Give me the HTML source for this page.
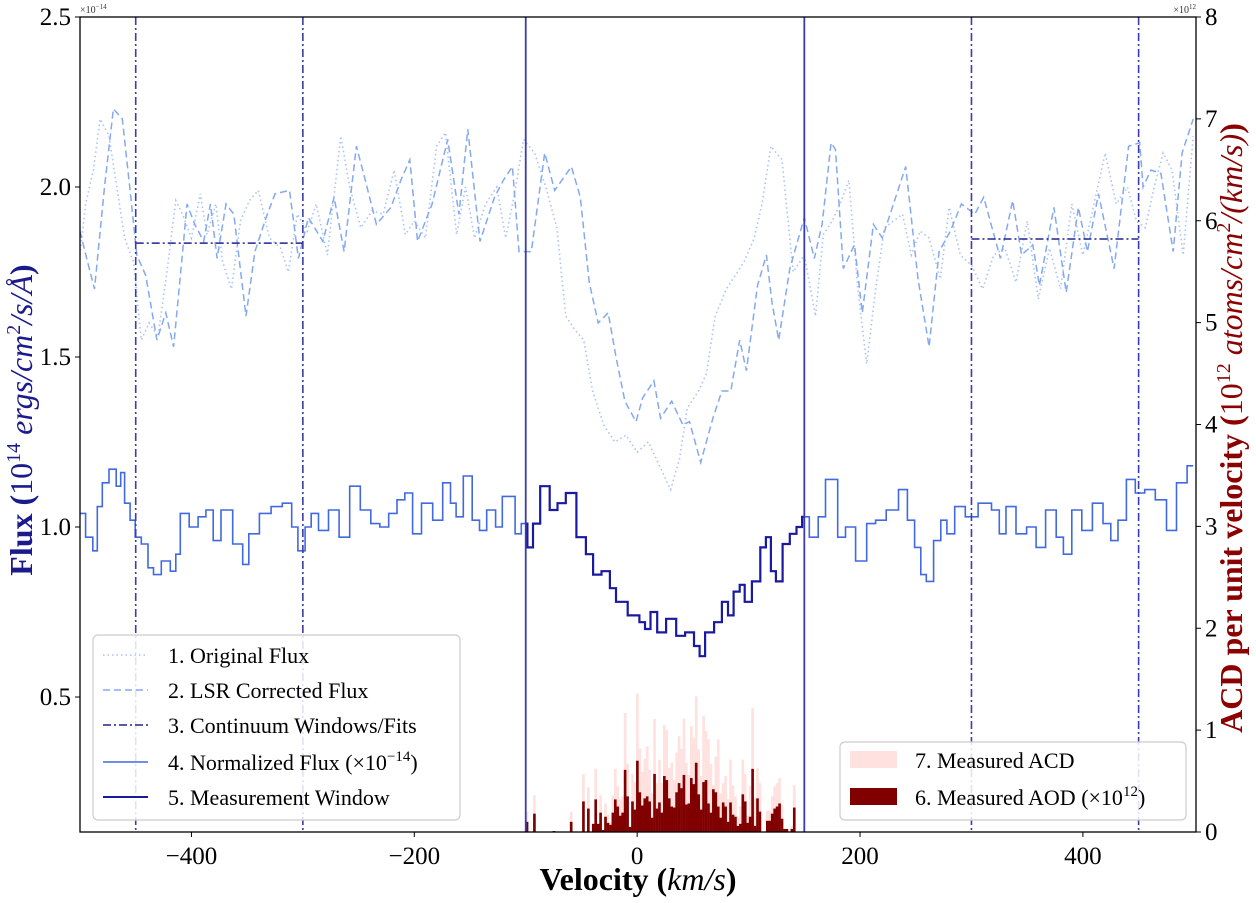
<!DOCTYPE html>
<html><head><meta charset="utf-8">
<style>
html,body{margin:0;padding:0;background:#fff;}
svg{display:block;font-family:"Liberation Serif",serif;}
</style></head>
<body>
<svg id="chart" width="1256" height="903" viewBox="0 0 1256 903" xmlns="http://www.w3.org/2000/svg">
<g id="marks"></g>
<rect x="80" y="17" width="1116" height="815" fill="none" stroke="#000" stroke-width="1.3"/>
<g id="axes"></g>
<text x="80" y="13" font-size="10" fill="#333">×10<tspan dy="-4" font-size="7">−14</tspan></text>
<text x="1196" y="13" font-size="10" fill="#333" text-anchor="end">×10<tspan dy="-4" font-size="7">12</tspan></text>
<text x="638" y="890" font-size="32" text-anchor="middle" fill="#000"><tspan font-weight="bold">Velocity (</tspan><tspan font-style="italic">km/s</tspan><tspan font-weight="bold">)</tspan></text>
<text transform="translate(32,420) rotate(-90)" font-size="32" text-anchor="middle" fill="#1a1a8c"><tspan font-weight="bold">Flux (</tspan><tspan>10<tspan dy="-12" font-size="20">14</tspan><tspan dy="12" font-style="italic"> ergs/cm</tspan><tspan dy="-12" font-size="20">2</tspan><tspan dy="12" font-style="italic">/s/Å</tspan></tspan><tspan font-weight="bold">)</tspan></text>
<text transform="translate(1242,428) rotate(-90)" font-size="32" text-anchor="middle" fill="#8b0000"><tspan font-weight="bold">ACD per unit velocity (</tspan><tspan>10<tspan dy="-12" font-size="20">12</tspan><tspan dy="12" font-style="italic"> atoms/cm</tspan><tspan dy="-12" font-size="20">2</tspan><tspan dy="12" font-style="italic">/(km/s)</tspan></tspan><tspan font-weight="bold">)</tspan></text>
<g>
<rect x="93" y="635" width="367" height="185" rx="5" fill="#fff" fill-opacity="0.85" stroke="#ccc" stroke-width="1.2"/>
<line x1="103" y1="655" x2="148" y2="655" stroke="#a9c3f5" stroke-width="1.5" stroke-dasharray="1.5,3"/>
<text x="168" y="663" font-size="22">1. Original Flux</text>
<line x1="103" y1="690" x2="148" y2="690" stroke="#84a9f0" stroke-width="1.5" stroke-dasharray="7,4"/>
<text x="168" y="698" font-size="22">2. LSR Corrected Flux</text>
<line x1="103" y1="725" x2="148" y2="725" stroke="#23238f" stroke-width="1.5" stroke-dasharray="8,3,2,3"/>
<text x="168" y="733" font-size="22">3. Continuum Windows/Fits</text>
<line x1="103" y1="762" x2="148" y2="762" stroke="#4169e1" stroke-width="1.5"/>
<text x="168" y="770" font-size="22">4. Normalized Flux (×10<tspan dy="-9" font-size="15">−14</tspan><tspan dy="9">)</tspan></text>
<line x1="103" y1="797" x2="148" y2="797" stroke="#1a1aa0" stroke-width="2"/>
<text x="168" y="805" font-size="22">5. Measurement Window</text>
</g>
<g>
<rect x="840" y="742" width="346" height="78" rx="5" fill="#fff" fill-opacity="0.85" stroke="#ccc" stroke-width="1.2"/>
<rect x="850" y="751" width="47" height="17" fill="#ffe2df"/>
<text x="915" y="768" font-size="22">7. Measured ACD</text>
<rect x="850" y="788" width="47" height="17" fill="#800000"/>
<text x="915" y="805" font-size="22">6. Measured AOD (×10<tspan dy="-9" font-size="15">12</tspan><tspan dy="9">)</tspan></text>
</g>
</svg>
<script>
// ---- data ----
const normV=[-500,-490,-487,-482,-478,-470,-465,-462,-458,-452,-449,-441,-437,-431,-423,-415,-413,-407,-397,-391,-383,-378,-369,-357,-351,-346,-332,-325,-312,-308,-301,-295,-290,-282,-272,-263,-253,-244,-234,-228,-218,-213,-204,-199,-188,-179,-170,-165,-160,-152,-144,-139,-131,-123,-119,-112,-107,-101,-96,-91,-83,-74,-69,-59,-50,-42,-37,-27,-22,-16,-1,5,9,15,21,31,39,47,55,57,65,73,79,84,89,95,98,108,113,118,122,127,134,140,146,150,159,166,172,177,183,191,201,211,217,230,239,246,252,257,262,270,275,281,289,300,312,324,326,336,344,355,361,372,380,385,395,403,414,422,428,435,443,451,460,470,480,488,499];
const normF=[1.04,0.97,0.93,1.06,1.13,1.17,1.12,1.16,1.07,1.02,0.97,0.95,0.88,0.86,0.90,0.87,0.92,1.04,1.00,1.03,1.05,0.96,1.05,0.95,0.89,0.98,1.04,1.06,1.07,1.00,0.93,1.00,1.04,0.99,1.05,0.97,1.12,1.05,1.01,1.00,1.04,1.08,1.10,0.98,1.07,1.02,1.13,1.07,1.03,1.15,1.02,0.99,1.05,1.00,1.09,1.09,0.98,1.01,0.94,1.01,1.12,1.05,1.07,1.10,0.97,0.92,0.86,0.87,0.82,0.78,0.74,0.72,0.70,0.75,0.69,0.73,0.68,0.69,0.65,0.62,0.69,0.72,0.78,0.74,0.81,0.83,0.78,0.84,0.94,0.97,0.87,0.84,0.95,0.98,1.00,1.03,0.97,1.03,1.14,1.14,0.97,1.00,0.90,1.01,1.02,1.05,1.11,1.02,0.94,0.86,0.84,0.96,1.02,0.98,1.06,1.03,1.07,1.05,0.98,1.06,0.98,1.00,0.94,1.05,0.97,0.92,1.05,0.99,1.07,1.01,0.96,1.02,1.14,1.10,1.11,1.08,0.99,1.13,1.18];
const lsrV=[-500,-494,-487,-478,-470,-462,-455,-449,-441,-431,-423,-416,-407,-404,-397,-389,-383,-377,-369,-362,-351,-343,-333,-325,-312,-304,-295,-282,-272,-263,-252,-244,-234,-221,-212,-204,-197,-184,-170,-160,-152,-141,-128,-120,-112,-106,-95,-83,-74,-59,-51,-43,-35,-26,-19,-11,-1,5,15,21,31,41,47,57,68,76,84,92,98,108,116,121,127,137,150,159,166,174,178,185,195,202,212,220,233,241,252,262,271,281,291,303,311,326,337,345,355,361,374,385,396,404,414,428,441,451,454,461,470,481,489,499];
const lsrF=[1.87,1.79,1.70,2.00,2.23,2.20,1.99,1.80,1.74,1.55,1.63,1.53,1.84,1.95,1.89,1.84,1.95,1.79,1.95,1.92,1.62,1.81,1.91,1.98,1.99,1.79,1.91,1.84,1.97,1.81,2.12,2.02,1.89,1.94,2.02,2.08,1.84,1.95,2.14,1.92,2.17,1.84,1.97,2.02,2.06,1.81,1.81,2.10,1.99,2.06,1.97,1.72,1.60,1.63,1.50,1.37,1.31,1.38,1.43,1.32,1.37,1.30,1.31,1.19,1.32,1.40,1.40,1.55,1.46,1.71,1.80,1.66,1.55,1.76,1.91,1.79,1.89,2.13,2.11,1.76,1.83,1.63,1.89,1.85,1.98,2.06,1.73,1.53,1.81,1.87,1.95,1.92,1.97,1.79,1.96,1.80,1.83,1.71,1.94,1.69,1.94,1.81,1.98,1.76,2.12,2.13,2.00,2.05,2.04,1.81,2.10,2.20];
const origV=[-500,-495,-488,-482,-474,-467,-460,-452,-445,-438,-430,-422,-414,-408,-400,-392,-386,-378,-372,-364,-356,-348,-340,-330,-320,-313,-305,-296,-288,-278,-266,-258,-248,-238,-228,-218,-208,-200,-190,-180,-172,-162,-154,-146,-136,-126,-118,-110,-102,-92,-82,-72,-64,-56,-48,-40,-30,-20,-10,0,10,20,30,38,45,55,62,70,80,88,96,105,112,120,130,140,150,160,167,175,182,190,198,206,214,222,230,238,246,254,262,272,280,290,300,310,320,330,340,350,360,370,380,390,400,410,420,430,440,448,456,464,472,480,490,499];
const origF=[1.80,1.95,2.05,2.20,2.15,2.00,1.85,1.78,1.55,1.60,1.56,1.75,1.96,1.92,1.85,1.98,1.86,1.95,1.78,1.70,1.90,1.96,1.99,1.85,1.82,1.75,1.92,1.87,1.95,1.80,2.15,2.00,1.88,1.93,1.92,2.05,1.86,1.90,1.85,2.12,2.16,1.86,2.00,1.85,1.95,2.00,1.85,1.98,2.14,2.10,2.00,1.88,1.62,1.58,1.55,1.40,1.30,1.25,1.27,1.22,1.25,1.18,1.11,1.20,1.35,1.40,1.45,1.62,1.70,1.74,1.78,1.85,1.95,2.12,2.08,1.75,1.80,1.62,1.86,1.90,1.95,2.02,1.70,1.48,1.70,1.88,1.90,1.92,1.80,1.87,1.85,1.73,1.94,1.80,1.77,1.70,1.80,1.82,1.72,1.90,1.67,1.82,1.70,1.95,1.80,1.95,2.10,1.95,2.00,1.90,1.88,2.00,2.10,2.05,1.80,2.15,2.22];
const cont1=[-450,-300,1.835];
const cont2=[300,450,1.847];
const contLines=[-450,-300,300,450];
const windowLines=[-100,150];
const binStart=-100, binWidth=2.2;
const acd=[0.20,0,0,0.36,0,0,0,0,0,0,0,0.01,0,0,0,0,0,0,0.20,0,0,0,0,0.57,0,0.44,0,0.08,0.62,0.08,0.36,0.02,0.28,0.17,0.09,0.36,0.62,0.45,0.32,0.35,1.17,0.67,0.05,0.57,0.49,1.36,0.82,0.59,0.72,0.84,0.61,0.38,1.11,0.48,0.71,0.48,1.05,1.00,0.63,0.68,0.51,0.78,0.94,0.82,1.11,0.68,0.56,1.04,0.92,1.33,0.81,0.55,1.14,0.99,0.91,0.67,0.46,0.74,0.91,0.38,0.48,0.55,0.32,0.71,0.46,0.35,0.15,0.25,0.71,0.57,0.16,0.45,1.22,0.33,0.63,0.48,0,0,0.21,0.21,0.35,0.45,0.48,0.53,0.27,0.03,0.03,0,0.06,0.46,0,0];
const aod=[0.10,0,0,0.18,0,0,0,0,0,0,0,0.01,0,0,0,0,0,0,0.10,0,0,0,0,0.30,0,0.23,0,0.08,0.32,0.08,0.19,0.02,0.15,0.09,0.07,0.19,0.32,0.25,0.16,0.19,0.61,0.35,0.05,0.30,0.22,0.70,0.39,0.26,0.33,0.35,0.30,0.14,0.57,0.23,0.29,0.19,0.55,0.51,0.33,0.25,0.24,0.39,0.48,0.43,0.56,0.27,0.28,0.53,0.47,0.68,0.37,0.22,0.49,0.51,0.28,0.19,0.42,0.39,0.25,0.14,0.29,0.25,0.10,0.29,0.17,0.15,0.06,0.08,0.37,0.30,0.09,0.15,0.62,0.06,0.33,0.20,0,0,0.11,0.11,0.18,0.23,0.25,0.28,0.13,0.03,0.03,0,0.03,0.24,0,0];
const xTicks=[-400,-200,0,200,400];
const yTicks=[0.5,1.0,1.5,2.0,2.5];
const y2Ticks=[0,1,2,3,4,5,6,7,8];
// ---- scales ----
const X0=80,X1=1196,Y0=17,Y1=832;
const xmin=-500,xmax=501.5,ymin=0.103,ymax=2.5,y2min=0,y2max=8;
const sx=v=>X0+(v-xmin)/(xmax-xmin)*(X1-X0);
const sy=f=>Y1-(f-ymin)/(ymax-ymin)*(Y1-Y0);
const sy2=f=>Y1-(f-y2min)/(y2max-y2min)*(Y1-Y0);
const NS='http://www.w3.org/2000/svg';
const marks=document.getElementById('marks');
const axes=document.getElementById('axes');
function mk(tag,attrs,parent){const e=document.createElementNS(NS,tag);for(const k in attrs)e.setAttribute(k,attrs[k]);(parent||marks).appendChild(e);return e;}
const clip=mk('clipPath',{id:'pc'});mk('rect',{x:X0,y:Y0,width:X1-X0,height:Y1-Y0},clip);
// bars
for(let i=0;i<acd.length;i++){
  const x=sx(binStart+i*binWidth),w=sx(binStart+(i+1)*binWidth)-x;
  if(acd[i]>0){const r=mk('rect',{x:x,y:sy2(acd[i]),width:w+0.2,height:Y1-sy2(acd[i]),fill:'#ffe2df'});
  
  }
}
for(let i=0;i<aod.length;i++){
  const x=sx(binStart+i*binWidth),w=sx(binStart+(i+1)*binWidth)-x;
  if(aod[i]>0){const r=mk('rect',{x:x,y:sy2(aod[i]),width:w+0.2,height:Y1-sy2(aod[i]),fill:'#800000'});
  
  }
}
function linePath(V,F){return V.map((v,i)=>(i?'L':'M')+sx(v).toFixed(1)+','+sy(F[i]).toFixed(1)).join('');}
const po=mk('path',{d:linePath(origV,origF),fill:'none',stroke:'#a9c3f5',"stroke-width":1.6,"stroke-dasharray":'1.5,3','clip-path':'url(#pc)'});


const pl=mk('path',{d:linePath(lsrV,lsrF),fill:'none',stroke:'#84a9f0',"stroke-width":1.5,"stroke-dasharray":'7,4','clip-path':'url(#pc)'});


// step path
function stepPath(V,F,lo,hi){let d='';let started=false;
  for(let i=0;i<V.length;i++){
    const a=i?(V[i-1]+V[i])/2:V[i],b=i<V.length-1?(V[i]+V[i+1])/2:V[i];
    const aa=Math.max(a,lo),bb=Math.min(b,hi);if(bb<=aa)continue;
    const y=sy(F[i]).toFixed(1);
    if(!started){d+='M'+sx(aa).toFixed(1)+','+y;started=true;}else d+='L'+sx(aa).toFixed(1)+','+y;
    d+='L'+sx(bb).toFixed(1)+','+y;}
  return d;}
const pn=mk('path',{d:stepPath(normV,normF,-1000,1000),fill:'none',stroke:'#4169e1',"stroke-width":1.6,'clip-path':'url(#pc)'});


const pw=mk('path',{d:stepPath(normV,normF,windowLines[0],windowLines[1]),fill:'none',stroke:'#1a1aa0',"stroke-width":2.2});


// continuum fits
[cont1,cont2].forEach(c=>{const l=mk('line',{x1:sx(c[0]),x2:sx(c[1]),y1:sy(c[2]),y2:sy(c[2]),stroke:'#23238f',"stroke-width":1.5,"stroke-dasharray":'8,3,2,3'});

});
contLines.forEach(v=>{const l=mk('line',{x1:sx(v),x2:sx(v),y1:Y0,y2:Y1,stroke:'#3b3bb0',"stroke-width":1.6,"stroke-dasharray":'8,3,2,3'});

});
windowLines.forEach(v=>{const l=mk('line',{x1:sx(v),x2:sx(v),y1:Y0,y2:Y1,stroke:'#3b3bb0',"stroke-width":1.8});

});
// axes
xTicks.forEach(v=>{const x=sx(v);mk('line',{x1:x,x2:x,y1:Y1,y2:Y1+5,stroke:'#000'},axes);
const t=mk('text',{x:x,y:Y1+32,"font-size":25,"text-anchor":'middle'},axes);t.textContent=(v<0?'−':'')+Math.abs(v);

});
yTicks.forEach(v=>{const y=sy(v);mk('line',{x1:X0-5,x2:X0,y1:y,y2:y,stroke:'#000'},axes);
const t=mk('text',{x:X0-9,y:y+8,"font-size":25,"text-anchor":'end'},axes);t.textContent=v.toFixed(1);

});
y2Ticks.forEach(v=>{const y=sy2(v);mk('line',{x1:X1,x2:X1+5,y1:y,y2:y,stroke:'#000'},axes);
const t=mk('text',{x:X1+9,y:y+8,"font-size":25},axes);t.textContent=v;

});
</script>
</body></html>
